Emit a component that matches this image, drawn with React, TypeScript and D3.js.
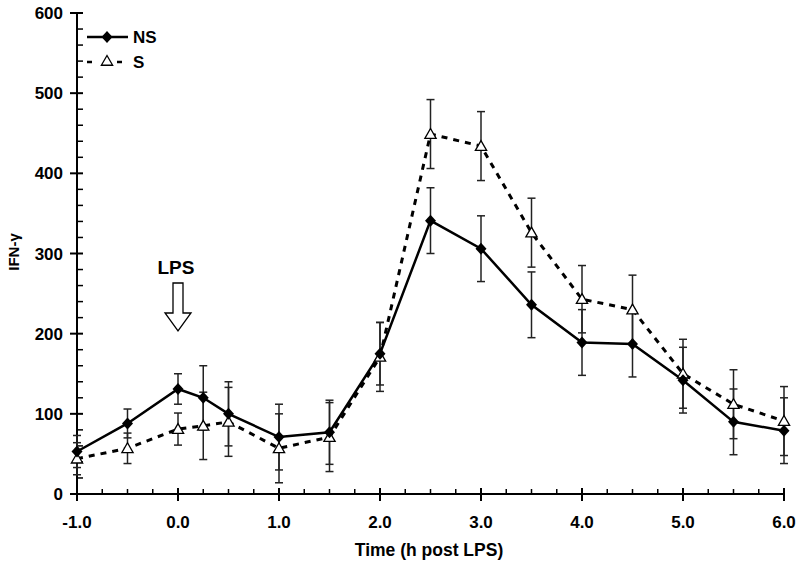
import React, { useEffect, useRef } from 'react';
import * as d3 from 'd3';

// time points (h post LPS)
const times = [-1, -0.5, 0, 0.25, 0.5, 1, 1.5, 2, 2.5, 3, 3.5, 4, 4.5, 5, 5.5, 6];
// NS series
const nsMean = [53, 88, 131, 120, 100, 71, 77, 175, 341, 306, 236, 189, 187, 142, 90, 79];
const nsErr = [20, 18, 19, 40, 40, 41, 40, 39, 41, 41, 41, 41, 41, 41, 41, 41];
// S series
const sMean = [44, 57, 81, 85, 90, 57, 71, 171, 449, 434, 326, 243, 230, 150, 112, 91];
const sErr = [20, 19, 20, 42, 43, 43, 43, 43, 43, 43, 43, 42, 43, 43, 43, 43];

const yTicks = [0, 100, 200, 300, 400, 500, 600];
const xTicks = [-1, 0, 1, 2, 3, 4, 5, 6];

const FONT = '"Liberation Sans", Arial, sans-serif';

const App = () => {
  const ref = useRef<SVGSVGElement>(null);
  const W = 800;
  const H = 565;
  const margin = { top: 13, right: 16, bottom: 71, left: 77 };

  useEffect(() => {
    const svg = d3.select(ref.current);
    svg.selectAll('*').remove();

    const x = d3.scaleLinear().domain([-1, 6]).range([margin.left, W - margin.right]);
    const y = d3.scaleLinear().domain([0, 600]).range([H - margin.bottom, margin.top]);
    const x0 = x(-1);
    const y0 = y(0);

    const g = svg.append('g').attr('font-family', FONT).attr('font-weight', 'bold');

    // axes lines
    g.append('line').attr('x1', x0).attr('x2', x0).attr('y1', y(600)).attr('y2', y0)
      .attr('stroke', '#000').attr('stroke-width', 2);
    g.append('line').attr('x1', x0).attr('x2', x(6)).attr('y1', y0).attr('y2', y0)
      .attr('stroke', '#000').attr('stroke-width', 2);

    // y minor ticks (every 20), pointing inward
    d3.range(0, 601, 20).filter(v => v % 100 !== 0).forEach(v => {
      g.append('line').attr('x1', x0).attr('x2', x0 + 6).attr('y1', y(v)).attr('y2', y(v))
        .attr('stroke', '#000').attr('stroke-width', 1.5);
    });
    // y major ticks, crossing
    yTicks.forEach(v => {
      g.append('line').attr('x1', x0 - 7).attr('x2', x0 + 6).attr('y1', y(v)).attr('y2', y(v))
        .attr('stroke', '#000').attr('stroke-width', 2);
      g.append('text').attr('x', x0 - 14).attr('y', y(v)).attr('dy', '0.36em')
        .attr('text-anchor', 'end').attr('font-size', 17).text(v);
    });

    // x minor ticks (every 0.25), inward
    d3.range(-1, 6.01, 0.25).filter(v => Math.abs(v - Math.round(v)) > 0.01).forEach(v => {
      g.append('line').attr('x1', x(v)).attr('x2', x(v)).attr('y1', y0).attr('y2', y0 - 5)
        .attr('stroke', '#000').attr('stroke-width', 1.5);
    });
    // x major ticks, crossing
    xTicks.forEach(v => {
      g.append('line').attr('x1', x(v)).attr('x2', x(v)).attr('y1', y0 - 6).attr('y2', y0 + 7)
        .attr('stroke', '#000').attr('stroke-width', 2);
      g.append('text').attr('x', x(v)).attr('y', y0 + 34)
        .attr('text-anchor', 'middle').attr('font-size', 17)
        .text(d3.format('.1f')(v).replace('\u2212', '-'));
    });

    // axis titles
    g.append('text').attr('x', 429).attr('y', H - 9).attr('text-anchor', 'middle')
      .attr('font-size', 17.5).text('Time (h post LPS)');
    g.append('text').attr('transform', `translate(19,${252}) rotate(-90)`)
      .attr('text-anchor', 'middle').attr('font-size', 15).text('IFN-γ');

    // LPS annotation
    const ax = x(0);
    g.append('text').attr('x', ax - 2).attr('y', 274).attr('text-anchor', 'middle')
      .attr('font-size', 19).text('LPS');
    const arrow = `M${ax - 5},283 L${ax + 5},283 L${ax + 5},313 L${ax + 13},313 L${ax},331 L${ax - 13},313 L${ax - 5},313 Z`;
    g.append('path').attr('d', arrow).attr('fill', '#fff').attr('stroke', '#000').attr('stroke-width', 1.3);

    const drawErr = (means: number[], errs: number[]) => {
      times.forEach((t, i) => {
        const cx = x(t);
        const hi = y(means[i] + errs[i]);
        const lo = y(Math.max(0, means[i] - errs[i]));
        g.append('line').attr('x1', cx).attr('x2', cx).attr('y1', hi).attr('y2', lo)
          .attr('stroke', '#222').attr('stroke-width', 1.5);
        [hi, lo].forEach(yy => {
          g.append('line').attr('x1', cx - 4).attr('x2', cx + 4).attr('y1', yy).attr('y2', yy)
            .attr('stroke', '#222').attr('stroke-width', 1.5);
        });
      });
    };

    const line = d3.line<number>().x((_, i) => x(times[i])).y(d => y(d));

    // S series (dashed, open triangles)
    drawErr(sMean, sErr);
    g.append('path').datum(sMean).attr('d', line).attr('fill', 'none')
      .attr('stroke', '#000').attr('stroke-width', 3).attr('stroke-dasharray', '6,6');

    // NS series (solid, diamonds)
    drawErr(nsMean, nsErr);
    g.append('path').datum(nsMean).attr('d', line).attr('fill', 'none')
      .attr('stroke', '#000').attr('stroke-width', 2.5);

    const tri = d3.symbol().type(d3.symbolTriangle).size(55);
    const dia = (cx: number, cy: number) => `M${cx},${cy - 6} L${cx + 5.5},${cy} L${cx},${cy + 6} L${cx - 5.5},${cy} Z`;

    sMean.forEach((v, i) => {
      g.append('path').attr('d', tri).attr('transform', `translate(${x(times[i])},${y(v) + 1})`)
        .attr('fill', '#fff').attr('stroke', '#000').attr('stroke-width', 1.3);
    });
    nsMean.forEach((v, i) => {
      g.append('path').attr('d', dia(x(times[i]), y(v))).attr('fill', '#000');
    });

    // legend
    const lg = g.append('g');
    lg.append('line').attr('x1', 87).attr('x2', 128).attr('y1', 37).attr('y2', 37)
      .attr('stroke', '#000').attr('stroke-width', 2.5);
    lg.append('path').attr('d', dia(107, 37)).attr('fill', '#000');
    lg.append('text').attr('x', 133).attr('y', 43).attr('font-size', 17).text('NS');
    lg.append('line').attr('x1', 87).attr('x2', 125).attr('y1', 62).attr('y2', 62)
      .attr('stroke', '#000').attr('stroke-width', 2.5).attr('stroke-dasharray', '5,25');
    lg.append('path').attr('d', tri).attr('transform', 'translate(107,62)')
      .attr('fill', '#fff').attr('stroke', '#000').attr('stroke-width', 1.3);
    lg.append('text').attr('x', 133).attr('y', 68).attr('font-size', 17).text('S');
  }, []);

  return (
    <svg ref={ref} width={W} height={H}
      style={{ position: 'absolute', left: 0, top: 0, background: '#fff' }} />
  );
};

export default App;
